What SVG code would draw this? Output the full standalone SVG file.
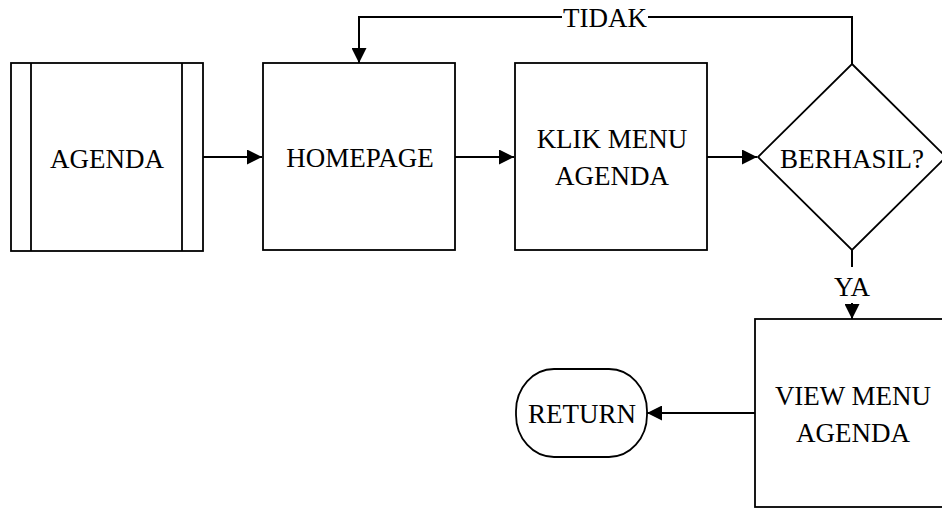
<svg xmlns="http://www.w3.org/2000/svg" width="942" height="508" viewBox="0 0 942 508">
<style>
.box{fill:#fff;stroke:#000;stroke-width:1.8}
.ln{fill:none;stroke:#000;stroke-width:2}
.t{font-family:"Liberation Serif","Times New Roman",serif;font-size:27px;fill:#000;text-anchor:middle}
</style>
<defs>
<marker id="ah" markerWidth="15" markerHeight="15" viewBox="0 0 15 15" refX="15" refY="7.5" orient="auto" markerUnits="userSpaceOnUse">
<path d="M0,0 L15,7.5 L0,15 Z" fill="#000"/>
</marker>
</defs>
<rect width="942" height="508" fill="#fff"/>
<g id="connectors">
<line class="ln" x1="203" y1="157" x2="262" y2="157" marker-end="url(#ah)"/>
<line class="ln" x1="455" y1="157" x2="514" y2="157" marker-end="url(#ah)"/>
<line class="ln" x1="707" y1="157" x2="757" y2="157" marker-end="url(#ah)"/>
<polyline class="ln" points="852,64 852,17 648,17"/>
<polyline class="ln" points="562,17 359,17 359,63" marker-end="url(#ah)"/>
<text class="t" x="605" y="27">TIDAK</text>
<line class="ln" x1="852" y1="250" x2="852" y2="267"/>
<text class="t" x="852" y="296">YA</text>
<line class="ln" x1="852" y1="303" x2="852" y2="319" marker-end="url(#ah)"/>
<line class="ln" x1="755" y1="413" x2="647" y2="413" marker-end="url(#ah)"/>
</g>
<g id="agenda">
<rect class="box" x="11" y="63" width="192" height="188"/>
<line class="ln" x1="31" y1="63" x2="31" y2="251" style="stroke-width:1.8"/>
<line class="ln" x1="182" y1="63" x2="182" y2="251" style="stroke-width:1.8"/>
<text class="t" x="107" y="168">AGENDA</text>
</g>
<g id="homepage">
<rect class="box" x="263" y="63" width="192" height="187"/>
<text class="t" x="360" y="167">HOMEPAGE</text>
</g>
<g id="klik">
<rect class="box" x="515" y="63" width="192" height="187"/>
<text class="t" x="612" y="148">KLIK MENU</text>
<text class="t" x="612" y="185">AGENDA</text>
</g>
<g id="berhasil">
<polygon class="box" points="852,64 946,157 852,250 758,157"/>
<text class="t" x="852" y="168">BERHASIL?</text>
</g>
<g id="view">
<rect class="box" x="755" y="319" width="196" height="188"/>
<text class="t" x="853" y="405">VIEW MENU</text>
<text class="t" x="853" y="442">AGENDA</text>
</g>
<g id="return">
<rect class="box" x="516" y="369" width="131" height="88" rx="38" ry="42"/>
<text class="t" x="582" y="423">RETURN</text>
</g>
</svg>
